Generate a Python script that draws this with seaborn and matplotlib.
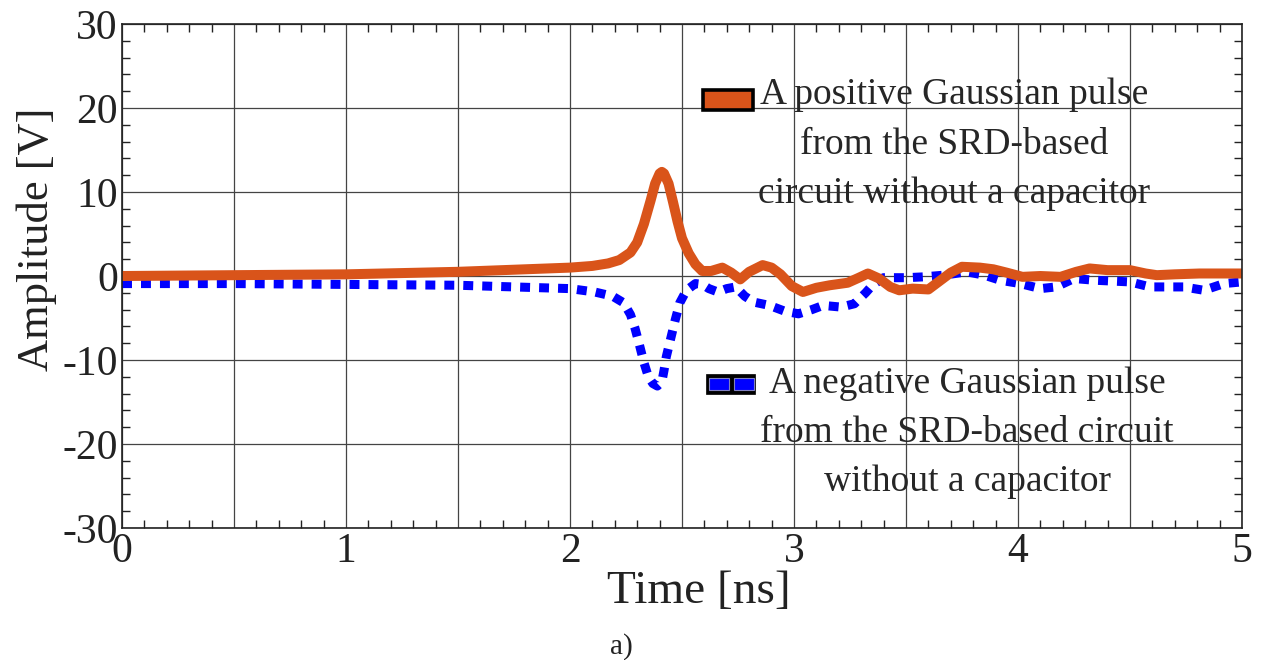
import matplotlib
matplotlib.use("Agg")
import matplotlib.pyplot as plt
from matplotlib.patches import Rectangle
from matplotlib.legend_handler import HandlerBase
from matplotlib.ticker import MultipleLocator, FuncFormatter
import seaborn as sns
import pandas as pd

# values
t_pos = [0.0, 0.5, 1.0, 1.5, 1.8, 2.0, 2.1, 2.17, 2.22, 2.27, 2.30, 2.33, 2.36, 2.38,
         2.40, 2.41, 2.42, 2.44, 2.46, 2.48, 2.50, 2.53, 2.56, 2.59, 2.63, 2.68, 2.72,
         2.76, 2.80, 2.86, 2.90, 2.94, 2.99, 3.04, 3.10, 3.16, 3.24, 3.29, 3.33, 3.38,
         3.43, 3.47, 3.53, 3.60, 3.65, 3.70, 3.75, 3.83, 3.89, 3.95, 4.02, 4.10, 4.19,
         4.26, 4.32, 4.40, 4.50, 4.57, 4.62, 4.70, 4.81, 4.90, 5.0]
v_pos = [0.0, 0.1, 0.2, 0.5, 0.8, 1.0, 1.2, 1.5, 1.9, 2.8, 4.0, 6.2, 9.0, 11.0,
         12.2, 12.4, 12.2, 11.0, 8.8, 6.5, 4.5, 2.7, 1.4, 0.6, 0.6, 1.0, 0.4,
         -0.4, 0.5, 1.3, 1.0, 0.2, -1.2, -1.9, -1.4, -1.1, -0.8, -0.2, 0.3, -0.3,
         -1.3, -1.7, -1.5, -1.6, -0.6, 0.4, 1.1, 1.0, 0.8, 0.4, -0.1, 0.0, -0.1,
         0.5, 0.9, 0.7, 0.7, 0.3, 0.1, 0.2, 0.3, 0.3, 0.3]

t_neg = [0.0, 0.5, 1.0, 1.5, 2.0, 2.11, 2.19, 2.24, 2.27, 2.29, 2.31, 2.33, 2.35, 2.37,
         2.39, 2.41, 2.42, 2.43, 2.45, 2.47, 2.49, 2.52, 2.56, 2.59, 2.62, 2.66, 2.70,
         2.74, 2.78, 2.82, 2.89, 2.96, 3.02, 3.08, 3.13, 3.21, 3.27, 3.32, 3.35, 3.40,
         3.50, 3.58, 3.67, 3.77, 3.85, 3.92, 4.01, 4.10, 4.17, 4.25, 4.34, 4.50, 4.59,
         4.74, 4.83, 4.92, 5.0]
v_neg = [-0.9, -0.9, -1.0, -1.1, -1.5, -1.9, -2.4, -3.2, -4.6, -6.2, -8.2, -10.3, -12.0, -12.8,
         -13.1, -12.6, -11.2, -9.6, -7.4, -5.2, -3.2, -1.7, -0.9, -1.0, -1.5, -1.9, -1.5,
         -1.3, -2.4, -3.1, -3.5, -4.2, -4.5, -4.0, -3.5, -3.7, -3.3, -2.0, -1.1, -0.2,
         -0.2, -0.1, 0.1, 0.5, 0.1, -0.5, -0.9, -1.5, -1.3, -0.3, -0.5, -0.7, -1.3,
         -1.3, -1.7, -0.9, -0.7]

label_pos = "A positive Gaussian pulse\nfrom the SRD-based\ncircuit without a capacitor"
label_neg = "A negative Gaussian pulse\nfrom the SRD-based circuit\nwithout a capacitor"

orange = "#D9541A"
blue = "#0000FF"
ink = "#222222"


class SwatchHandler(HandlerBase):
    """Legend key drawn at the bottom of a tall handle box (so it sits by the first line)."""
    def __init__(self, kind):
        super().__init__()
        self.kind = kind

    def create_artists(self, legend, orig_handle, xdescent, ydescent, width, height, fontsize, trans):
        x0, y0 = -xdescent, -ydescent
        h = 0.53 * fontsize
        if self.kind == "solid":
            return [Rectangle((x0, y0), width, h, facecolor=orange, edgecolor='black',
                              lw=2.6, transform=trans)]
        arts = [Rectangle((x0, y0), width, h, facecolor='black', edgecolor='black',
                          lw=0.5, transform=trans)]
        sw = width * 0.41
        for i in range(2):
            arts.append(Rectangle((x0 + width * 0.06 + i * width * 0.51, y0 + h * 0.17), sw, h * 0.62,
                                  facecolor=blue, edgecolor='#8080c0', lw=0.8, transform=trans))
        return arts


sns.set_theme(style="white")
plt.rcParams['font.family'] = ['Liberation Serif', 'DejaVu Serif']
plt.rcParams['axes.unicode_minus'] = False

df_pos = pd.DataFrame({"t": t_pos, "v": v_pos})
df_neg = pd.DataFrame({"t": t_neg, "v": v_neg})

fig = plt.figure(figsize=(12.66, 6.6), dpi=100)
ax = fig.add_axes([0.0964, 0.2, 0.8846, 0.7636])

sns.lineplot(data=df_neg, x="t", y="v", ax=ax, color=blue, lw=6.5,
             sort=False, estimator=None)
ax.lines[-1].set_dashes([1.1, 1.0])
ax.lines[-1].set_dash_capstyle('butt')
sns.lineplot(data=df_pos, x="t", y="v", ax=ax, color=orange, lw=7.2,
             sort=False, estimator=None)
ax.lines[-1].set_solid_capstyle('round')
ax.lines[-1].set_solid_joinstyle('round')

ax.set_xlim(0, 5)
ax.set_ylim(-30, 30)
ax.xaxis.set_major_locator(MultipleLocator(0.5))
ax.xaxis.set_minor_locator(MultipleLocator(0.1))
ax.xaxis.set_major_formatter(FuncFormatter(lambda x, p: f"{x:.0f}" if abs(x - round(x)) < 1e-6 else ""))
ax.yaxis.set_major_locator(MultipleLocator(10))
ax.yaxis.set_minor_locator(MultipleLocator(2))
ax.grid(True, which='major', color='#444444', lw=0.9)
for s in ax.spines.values():
    s.set_color(ink)
    s.set_linewidth(1.2)
ax.tick_params(which='both', direction='in', top=True, right=True, bottom=True, left=True,
               colors=ink, labelcolor=ink)
ax.tick_params(which='major', length=0, labelsize=30, pad=3)
ax.tick_params(which='minor', length=6, width=1)

ax.set_xlabel("Time [ns]", fontsize=34, color=ink)
ax.xaxis.set_label_coords(0.515, -0.085)
ax.set_ylabel("Amplitude [V]", fontsize=32, color=ink)
ax.yaxis.set_label_coords(-0.058, 0.573)

leg_kw = dict(loc='upper left', frameon=False, fontsize=27, handlelength=1.33,
              handletextpad=0.13, borderpad=0, borderaxespad=0)
leg1 = ax.legend(["pos"], [label_pos], bbox_to_anchor=(0.519, 0.893), handleheight=0.93,
                 handler_map={str: SwatchHandler("solid")}, **leg_kw)
ax.add_artist(leg1)
leg2 = ax.legend(["neg"], [label_neg], bbox_to_anchor=(0.521, 0.321), handleheight=0.75,
                 handler_map={str: SwatchHandler("squares")}, **leg_kw)
for lg in (leg1, leg2):
    for txt in lg.get_texts():
        txt.set_multialignment('center')
        txt.set_linespacing(1.55)
    # put the handle next to the first line of the label
    for col in lg._legend_handle_box.get_children():
        for row in col.get_children():
            row.align = 'top'

fig.text(0.491, 0.021, "a)", fontsize=21, ha='center', va='center', color=ink)

fig.savefig("out.png", dpi=100)
